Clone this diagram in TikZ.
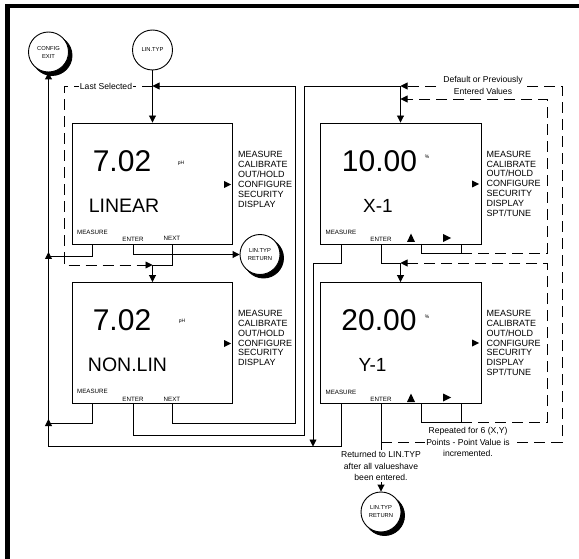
\documentclass[tikz,border=0pt]{standalone}
\usepackage{fontspec}
\setmainfont{Liberation Sans}
\usetikzlibrary{arrows.meta,shadows}
\begin{document}
\begin{tikzpicture}[x=1pt,y=-1pt,
  wire/.style={line width=0.9pt,black},
  dwire/.style={wire,dash pattern=on 11pt off 6pt},
  arr/.style={-{Triangle[length=7pt,width=7pt]}},
  lcd/.style={draw,line width=0.9pt,minimum width=160pt,minimum height=121pt,inner sep=0pt},
  bignum/.style={font=\fontsize{30}{30}\selectfont,inner sep=0pt},
  word/.style={font=\fontsize{19.5}{19.5}\selectfont,inner sep=0pt},
  xyword/.style={font=\fontsize{19}{19}\selectfont,inner sep=0pt},
  unit/.style={font=\fontsize{5}{5}\selectfont,inner sep=0pt},
  key/.style={font=\fontsize{6.2}{6.2}\selectfont,inner sep=0pt},
  menu/.style={font=\fontsize{9}{9.85}\selectfont,inner sep=0pt,align=left,anchor=north west},
  note/.style={font=\fontsize{8.6}{11.5}\selectfont,inner sep=1pt,align=center,fill=white},
  bubble/.style={circle,draw,line width=0.9pt,fill=white,minimum size=40pt,inner sep=0pt,align=center,font=\fontsize{5.8}{8}\selectfont},
  shade/.style={copy shadow={shadow xshift=3.5pt,shadow yshift=-3.5pt,fill=black,draw=black}},
]
\useasboundingbox (0,0) rectangle (579,559);
% frame
\draw[line width=4pt] (5,6) -- (579,6);
\draw[line width=5pt] (7.5,4) -- (7.5,559);

% bubbles
\node[bubble] (lintyp) at (152.5,50) {LIN.TYP};
\node[bubble,shade] (cfgexit) at (48.5,52) {CONFIG\\EXIT};
\node[bubble,shade] (ret1) at (260,254.5) {LIN.TYP\\RETURN};
\node[bubble,shade] (ret2) at (381,512) {LIN.TYP\\RETURN};

% displays
\node[lcd] (b1) at (152.5,183.5) {};
\node[lcd] (b2) at (152.5,343) {};
\node[lcd,minimum width=161pt] (bx) at (400.5,183.5) {};
\node[lcd,minimum width=161pt] (by) at (400.5,343) {};

% box 1
\node[bignum] (b1num) at (122,161.5) {7.02};
\node[unit] (b1u) at (181,163) {pH};
\node[word] (b1w) at (124,206) {LINEAR};
\node[key] (b1m) at (92.5,232.5) {MEASURE};
\node[key] (b1e) at (133,239) {ENTER};
\node[key] (b1n) at (172,238.5) {NEXT};
\node[menu] (b1menu) at (238,151.5) {MEASURE\\CALIBRATE\\OUT/HOLD\\CONFIGURE\\SECURITY\\DISPLAY};
\fill (224,181) -- (231,184.5) -- (224,188) -- cycle;

% box 2
\node[bignum] (b2num) at (122,320) {7.02};
\node[unit] (b2u) at (182,321.5) {pH};
\node[word] (b2w) at (127.5,365) {NON.LIN};
\node[key] (b2m) at (92.5,391.5) {MEASURE};
\node[key] (b2e) at (133,399) {ENTER};
\node[key] (b2n) at (172,399) {NEXT};
\node[menu] (b2menu) at (238,310) {MEASURE\\CALIBRATE\\OUT/HOLD\\CONFIGURE\\SECURITY\\DISPLAY};
\fill (224,340) -- (231,343.5) -- (224,347) -- cycle;

% box X-1
\node[bignum] (bxnum) at (379.5,161.5) {10.00};
\node[unit] (bxu) at (427,157) {\%};
\node[xyword] (bxw) at (378,206) {X-1};
\node[key] (bxm) at (341,232.5) {MEASURE};
\node[key] (bxe) at (381,239) {ENTER};
\node[menu] (bxmenu) at (486.5,150.8) {MEASURE\\CALIBRATE\\OUT/HOLD\\CONFIGURE\\SECURITY\\DISPLAY\\SPT/TUNE};
\fill (472,180.5) -- (479,184) -- (472,187.5) -- cycle;
\fill (407,242) -- (411,233.5) -- (415,242) -- cycle;
\fill (443,234) -- (451,238) -- (443,242) -- cycle;

% box Y-1
\node[bignum] (bynum) at (379,320) {20.00};
\node[unit] (byu) at (427,317) {\%};
\node[xyword] (byw) at (372.5,364.5) {Y-1};
\node[key] (bym) at (341,392) {MEASURE};
\node[key] (bye) at (381,399) {ENTER};
\node[menu] (bymenu) at (486.5,310) {MEASURE\\CALIBRATE\\OUT/HOLD\\CONFIGURE\\SECURITY\\DISPLAY\\SPT/TUNE};
\fill (472,339.5) -- (479,343) -- (472,346.5) -- cycle;
\fill (407,402) -- (411,393.5) -- (415,402) -- cycle;
\fill (443,393.5) -- (451,397.5) -- (443,401.5) -- cycle;

% junction coordinates
\coordinate (jtop) at (152.5,86);
\coordinate (jmid) at (152.5,265);
\coordinate (jx) at (400.5,86);
\coordinate (jx2) at (400.5,99);
\coordinate (jy) at (400.5,263);
\coordinate (jbot) at (48.5,446);
\coordinate (jrep) at (381,442);

% left column connectors
\draw[wire,arr] (lintyp) -- (lintyp |- b1.north);
\draw[wire,arr] (b2n |- b2.south) |- (295,423) |- (jtop);
\draw[dwire,arr] (jtop) -| (64,265) -- (jmid);
\draw[wire,arr] (b1n |- b1.south) |- (jmid) -- (jmid |- b2.north);
\draw[wire,arr] (b1e |- b1.south) |- (ret1.west);
\draw[wire,arr] (b1m |- b1.south) |- (48.5,256) -- (48.5,252);
\draw[wire,arr] (b2m |- b2.south) |- (48.5,423) -- (48.5,419);
\draw[wire,arr] (bym |- by.south) |- (jbot) -- (cfgexit.south);
\draw[wire,arr] (b2e |- b2.south) |- (304,435) |- (jx) -- (bx.north);

% right column connectors
\draw[wire,arr] (bxm |- bx.south) |- (313,263) -- (313,446.5);
\draw[wire,arr] (bxe |- bx.south) |- (jy) -- (by.north);
\draw[wire] (421,244) |- (461,253) -- (461,244);
\draw[dwire,arr] (461,253) -| (547,99) -- (jx2);
\draw[wire] (421,403.5) |- (461,422) -- (461,403.5);
\draw[dwire,arr] (461,422) -| (547,263) -- (jy);
\draw[dwire,arr] (jrep) -| (562,86) -- (jx);
\draw[wire,arr] (bye |- by.south) -- (ret2.north);

% notes
\node[note] (lastsel) at (106,86) {Last Selected};
\node[note] (defnote) at (483,85.5) {Default or Previously\\Entered Values};
\node[note] (repnote) at (468,442) {Repeated for 6 (X,Y)\\Points - Point Value is\\incremented.};
\node[note] (retnote) at (381,466) {Returned to LIN.TYP\\after all valueshave\\been entered.};
\end{tikzpicture}
\end{document}
